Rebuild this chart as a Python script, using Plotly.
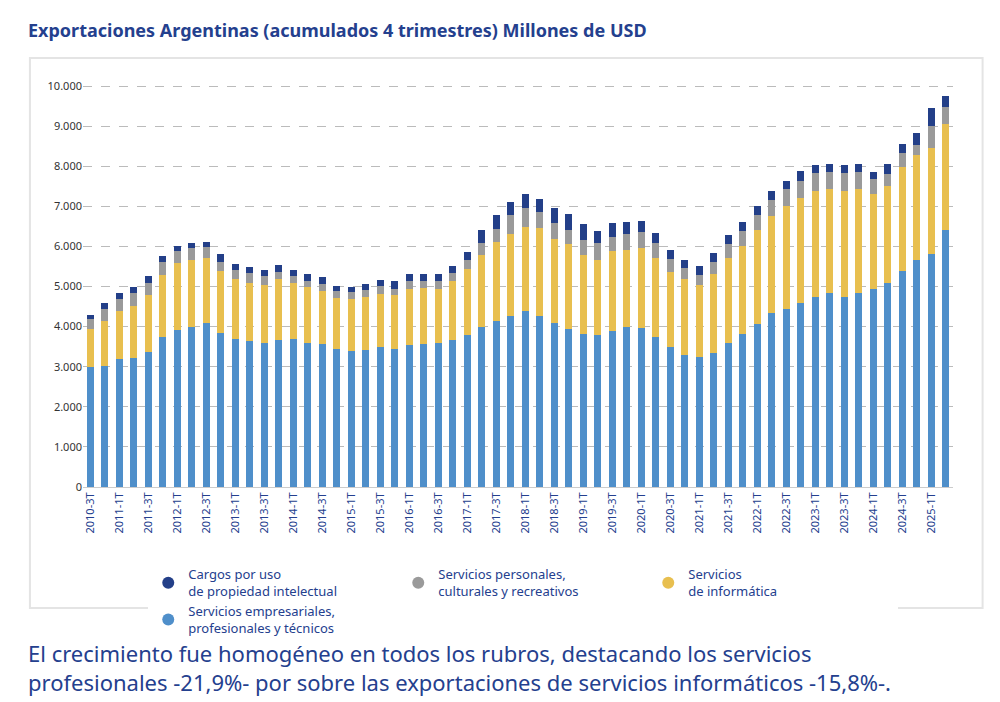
import plotly.graph_objects as go

quarters = []
y, q = 2010, 3
for i in range(60):
    quarters.append(f"{y}-{q}T")
    q += 1
    if q > 4:
        q = 1; y += 1

blue_top = [3000,3020,3180,3220,3370,3730,3920,3980,4080,3840,3680,3630,3580,3660,3680,3600,3560,3430,3400,3420,
            3500,3450,3540,3560,3600,3660,3800,4000,4140,4270,4380,4270,4100,3950,3810,3780,3880,3980,3960,3750,
            3500,3300,3230,3350,3580,3820,4060,4330,4450,4600,4740,4850,4740,4840,4930,5080,5380,5650,5800,6420]
yellow_top = [3950,4150,4400,4520,4780,5280,5580,5650,5700,5380,5180,5090,5050,5180,5080,4980,4880,4710,4680,4740,
              4810,4780,4950,4970,4950,5150,5430,5780,6110,6300,6490,6450,6190,6050,5780,5660,5880,5920,5970,5700,
              5350,5180,5040,5300,5720,6020,6400,6750,7000,7220,7370,7420,7380,7420,7300,7500,7970,8280,8460,9050]
gray_top = [4200,4450,4700,4850,5100,5600,5880,5950,5980,5620,5400,5330,5270,5370,5270,5150,5060,4890,4870,4920,
            5010,4950,5140,5150,5140,5340,5660,6080,6440,6780,6950,6850,6580,6410,6160,6080,6230,6300,6350,6080,
            5680,5460,5280,5600,6050,6380,6790,7150,7420,7640,7820,7860,7830,7850,7670,7800,8320,8530,9000,9480]
total = [4300,4600,4850,4980,5250,5750,6000,6080,6120,5800,5550,5480,5420,5540,5400,5300,5230,5020,5000,5060,
         5160,5130,5300,5310,5310,5520,5870,6420,6780,7110,7300,7180,6950,6800,6550,6380,6580,6610,6640,6330,
         5900,5650,5500,5830,6280,6600,7000,7380,7630,7870,8030,8050,8020,8050,7850,8050,8560,8820,9450,9750]

empresariales = blue_top
informatica = [b - a for a, b in zip(blue_top, yellow_top)]
personales = [b - a for a, b in zip(yellow_top, gray_top)]
cargos = [b - a for a, b in zip(gray_top, total)]

names = ["Servicios empresariales,<br>profesionales y técnicos", "Servicios<br>de informática",
         "Servicios personales,<br>culturales y recreativos", "Cargos por uso<br>de propiedad intelectual"]
colors = ["#4f8fca", "#e8bf4f", "#9a9a9a", "#233f88"]
series = [empresariales, informatica, personales, cargos]

fig = go.Figure()
for s, c in zip(series, colors):
    fig.add_bar(x=quarters, y=s, marker_color=c, showlegend=False, marker_line_width=0)
for i in [3, 2, 1, 0]:
    fig.add_scatter(x=[None], y=[None], mode="markers", name=names[i],
                    marker=dict(color=colors[i], size=13, symbol="circle"))

tickvals = quarters[::2]
fig.update_layout(
    width=1000, height=702, barmode="stack", bargap=0.5,
    paper_bgcolor="white", plot_bgcolor="white", separators=",.",
    margin=dict(l=75, r=55, t=66, b=223, autoexpand=False),
    font=dict(family="Noto Sans", color="#24408e"),
    xaxis=dict(tickvals=tickvals, tickangle=-90, tickfont=dict(size=11, color="#24408e"),
               showgrid=False, showline=True, linecolor="#cccccc", ticks=""),
    yaxis=dict(range=[0, 10300], tick0=0, dtick=1000, tickformat=",d",
               tickfont=dict(size=11, color="#333333"), gridcolor="#bbbbbb", griddash="dash",
               zeroline=False),
    legend=dict(orientation="h", x=0.075, y=-0.175, xanchor="left", yanchor="top", traceorder="normal",
                font=dict(size=13, color="#24408e"), itemsizing="constant",
                entrywidth=205, entrywidthmode="pixels"),
    shapes=[dict(type="path", xref="paper", yref="paper", layer="below",
                 path="M -0.061,1.039 L 1.034,1.039 L 1.034,-0.293 L -0.061,-0.293 Z",
                 line=dict(color="#e4e4e4", width=2), fillcolor="white")],
    annotations=[
        dict(text="<b>Exportaciones Argentinas (acumulados 4 trimestres) Millones de USD</b>",
             xref="paper", yref="paper", x=-0.065, y=1.14, xanchor="left", yanchor="top",
             showarrow=False, font=dict(size=18, color="#24408e")),
        dict(text="El crecimiento fue homogéneo en todos los rubros, destacando los servicios<br>"
                  "profesionales -21,9%- por sobre las exportaciones de servicios informáticos -15,8%-.",
             xref="paper", yref="paper", x=-0.065, y=-0.36, xanchor="left", yanchor="top", align="left",
             showarrow=False, font=dict(size=22, color="#24408e")),
    ],
)
fig.write_html("out.html")
